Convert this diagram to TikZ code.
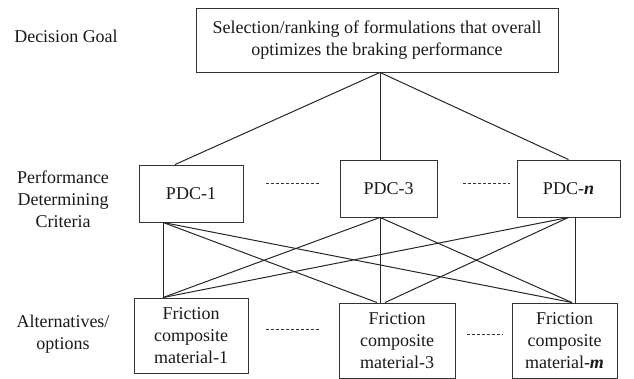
\documentclass[tikz,border=0pt]{standalone}
\usepackage{fontspec}
\setmainfont{Liberation Serif}
\begin{document}
\begin{tikzpicture}[x=1pt,y=-1pt,
  every node/.style={font=\fontsize{18}{22}\selectfont, text=black!90},
  box/.style={draw=black!80, line width=0.9pt, rectangle, inner sep=0pt, align=center},
  link/.style={draw=black!85, line width=1pt},
  gap/.style={draw=black!80, line width=0.8pt, dash pattern=on 3pt off 2pt},
  side/.style={align=center}]
\useasboundingbox (0,0) rectangle (634,379);

% level labels
\node[side] (lgoal) at (66,36) {Decision Goal};
\node[side] (lcrit) at (63,199) {Performance\\Determining\\Criteria};
\node[side] (lalt) at (63,334) {Alternatives/\\options};

% goal
\node[box, minimum width=362, minimum height=64] (goal) at (377,40)
  {Selection/ranking of formulations that overall\\optimizes the braking performance};

% criteria
\node[box, minimum width=104, minimum height=57] (pdc1) at (191,193.5) {PDC-1};
\node[box, minimum width=97, minimum height=57] (pdc3) at (388.5,188.5) {PDC-3};
\node[box, minimum width=103, minimum height=57] (pdcn) at (568.5,188.5) {PDC-\textbf{\textit{n}}};

% alternatives
\node[box, minimum width=114, minimum height=75] (alt1) at (191,335.5) {Friction\\composite\\material-1};
\node[box, minimum width=116, minimum height=75] (alt3) at (397,340.5) {Friction\\composite\\material-3};
\node[box, minimum width=105, minimum height=75] (altm) at (564.5,340.5) {Friction\\composite\\material-\textbf{\textit{m}}};

% goal to criteria
\draw[link] ([xshift=3]goal.south) -- ([xshift=-16]pdc1.north);
\draw[link] ([xshift=3]goal.south) -- ([xshift=-8.5]pdc3.north);
\draw[link] ([xshift=3]goal.south) -- (pdcn.north);

% criteria to alternatives
\draw[link] ([xshift=-28]pdc1.south) -- ([xshift=-28]alt1.north);
\draw[link] ([xshift=-28]pdc1.south) -- ([xshift=-20]alt3.north);
\draw[link] ([xshift=-28]pdc1.south) -- ([xshift=7.5]altm.north);
\draw[link] ([xshift=-8.5]pdc3.south) -- ([xshift=-28]alt1.north);
\draw[link] ([xshift=-8.5]pdc3.south) -- ([xshift=-17]alt3.north);
\draw[link] ([xshift=-8.5]pdc3.south) -- ([xshift=7.5]altm.north);
\draw[link] (pdcn.south) -- ([xshift=-28]alt1.north);
\draw[link] (pdcn.south) -- ([xshift=-12]alt3.north);
\draw[link] ([xshift=6.5]pdcn.south) -- ([xshift=10.5]altm.north);

% ellipses between boxes
\draw[gap] (266,183) -- (319,183);
\draw[gap] (463,183) -- (510,183);
\draw[gap] (266,329) -- (319,329);
\draw[gap] (467,334) -- (503,334);
\end{tikzpicture}
\end{document}
